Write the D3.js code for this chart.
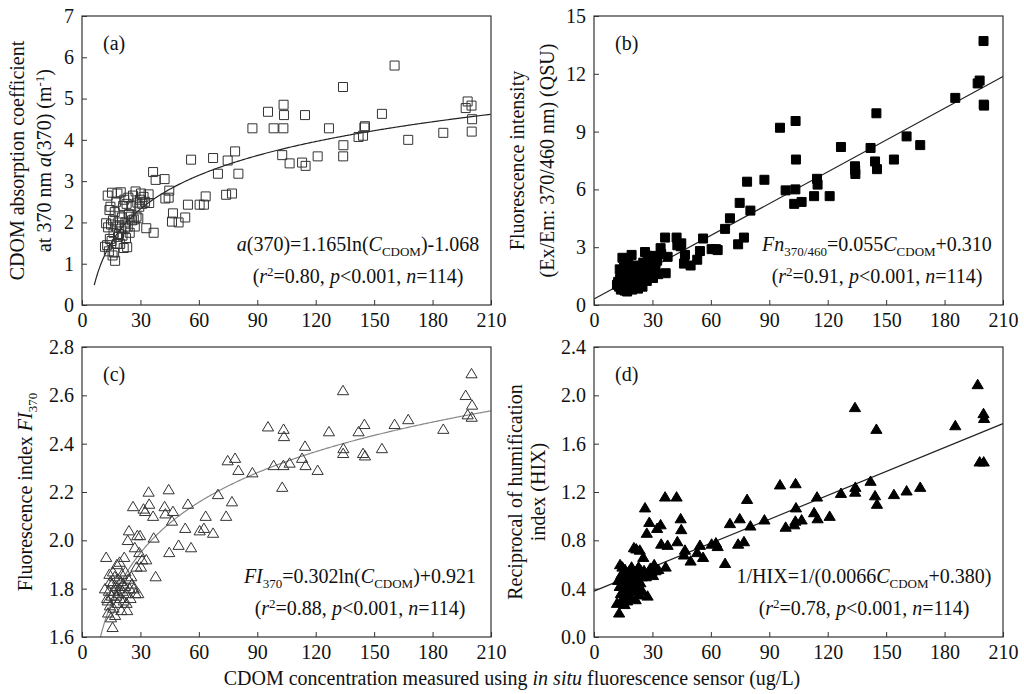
<!DOCTYPE html>
<html>
<head>
<meta charset="utf-8">
<script src="https://cdn.jsdelivr.net/npm/d3@7"></script>
<style>
  body { margin: 0; background: #fff; }
  svg text { font-family: "Liberation Serif", "Times New Roman", serif; fill: #111; }
</style>
</head>
<body>
<svg id="chart" width="1024" height="694"></svg>
<script>
// CDOM concentration (ug/L), shared by all four panels
const cdom = [197, 198, 200, 200.3, 200.1, 185.5, 167.5, 160.5, 154, 145, 144.3, 145.3, 142, 134, 134.2, 134.1,
  126.8, 121, 114.5, 114.8, 113, 106.6, 103.5, 103.7, 103.4, 102.8, 98.4, 95.5, 87.5, 80.3, 78.6, 77, 74.8, 74,
  69.8, 67.3, 63.5, 62.6, 60.4, 56, 54.4, 53, 49.6, 46.7, 46.2, 44.5, 44.8, 42.4, 42.8, 37.8, 36.5, 36.8, 34.2, 34.5, 33,
  11.8, 12.4, 12.9, 13.2, 13.4, 13.8, 14.1, 14.3, 14.6, 14.9, 15.2, 15.4, 15.7, 15.9, 16.2, 16.5, 16.8, 17.0, 17.3,
  17.6, 17.9, 18.2, 18.5, 18.7, 19.0, 19.3, 19.6, 19.9, 20.2, 20.5, 20.8, 21.1, 21.4, 21.7, 22.0, 22.3, 22.6, 22.9,
  23.2, 23.5, 23.8, 24.1, 24.5, 24.9, 25.3, 25.7, 26.2, 26.6, 27.1, 27.5, 28.0, 28.4, 28.9, 29.4, 29.8, 30.3, 30.9,
  31.6, 32.4];

// (a) absorption coefficient a(370), m^-1
const a370 = [4.77, 4.93, 4.83, 4.5, 4.2, 4.17, 4.0, 5.8, 4.63, 4.3, 4.1, 4.33, 4.07, 5.28, 3.87, 3.6,
  4.28, 3.6, 4.6, 3.37, 3.45, 3.43, 4.85, 4.6, 4.28, 3.63, 4.28, 4.68, 4.28, 3.18, 3.72, 2.7, 3.5, 2.67,
  3.18, 3.56, 2.63, 2.43, 2.43, 3.52, 2.43, 2.12, 2.0, 2.22, 2.02, 2.6, 2.77, 3.05, 2.58, 3.03, 3.22, 1.75, 2.68, 2.47, 1.86,
  1.41, 1.98, 1.45, 2.65, 1.88, 1.30, 2.30, 1.60, 2.38, 1.95, 1.55, 2.72, 1.20, 2.05, 1.75, 1.27, 2.25, 1.07, 1.90,
  2.50, 1.48, 2.70, 1.65, 2.00, 1.72, 2.15, 1.48, 2.73, 1.85, 2.12, 1.68, 2.40, 1.38, 2.55, 1.86, 2.00, 1.62, 2.45,
  1.40, 1.90, 2.60, 2.20, 1.75, 2.14, 2.40, 2.05, 2.65, 2.07, 1.90, 2.75, 2.14, 2.48, 2.10, 2.38, 2.55, 2.70, 2.45,
  2.62, 2.50];

// (b) fluorescence intensity Fn(370/460), QSU
const fn370 = [11.5, 11.65, 13.7, 10.35, 10.4, 10.75, 8.3, 8.75, 7.55, 9.95, 7.45, 7.05, 8.15, 7.2, 6.8, 7.0,
  8.2, 5.65, 6.55, 6.25, 5.65, 5.35, 9.55, 7.55, 6.0, 5.25, 5.95, 9.2, 6.5, 4.9, 6.4, 3.5, 5.3, 3.15,
  4.5, 3.95, 2.85, 2.9, 2.9, 3.45, 2.8, 2.35, 2.05, 2.6, 2.15, 3.05, 3.2, 3.5, 3.1, 2.5, 3.5, 1.65, 2.95, 2.65, 1.6,
  1.05, 1.20, 0.95, 1.85, 1.35, 0.80, 1.70, 1.10, 2.45, 1.50, 0.90, 1.95, 0.75, 1.60, 1.25, 0.85, 1.75, 0.70, 1.45,
  2.15, 1.00, 1.85, 1.30, 0.95, 1.15, 2.60, 0.80, 1.70, 1.40, 1.95, 0.90, 1.60, 1.10, 2.05, 1.25, 1.80, 0.85, 1.55,
  1.35, 1.90, 1.10, 2.00, 1.50, 0.95, 2.20, 1.75, 2.75, 1.65, 1.25, 2.55, 2.00, 1.45, 2.50, 1.80, 2.10, 1.40, 2.55,
  1.95, 2.30];

// (c) fluorescence index FI370
const fi370 = [2.60, 2.52, 2.69, 2.56, 2.51, 2.46, 2.50, 2.48, 2.38, 2.48, 2.36, 2.35, 2.45, 2.62, 2.38, 2.36,
  2.45, 2.29, 2.39, 2.31, 2.34, 2.32, 2.46, 2.43, 2.31, 2.22, 2.31, 2.47, 2.28, 2.29, 2.34, 2.16, 2.33, 2.10,
  2.19, 2.03, 2.10, 2.05, 2.04, 1.97, 2.15, 2.05, 1.98, 2.12, 2.08, 2.21, 1.95, 2.14, 2.11, 1.85, 2.10, 2.01, 2.20, 2.15, 1.92,
  1.80, 1.93, 1.76, 1.75, 1.70, 1.79, 1.86, 1.73, 1.83, 1.68, 1.77, 1.82, 1.64, 1.87, 1.72, 1.79, 1.85, 1.69, 1.81,
  1.77, 1.90, 1.74, 1.84, 1.78, 1.80, 1.91, 1.76, 1.83, 1.71, 1.86, 1.79, 1.82, 1.75, 1.93, 1.81, 1.87, 1.78, 1.74,
  1.71, 2.00, 1.84, 2.04, 1.80, 1.76, 1.85, 1.82, 2.14, 1.80, 1.97, 1.78, 1.89, 2.02, 1.78, 1.95, 2.02, 1.89, 1.92,
  2.13, 2.12];

// (d) reciprocal of humification index 1/HIX
const rHix = [2.09, 1.45, 1.85, 1.81, 1.45, 1.75, 1.24, 1.21, 1.18, 1.72, 1.17, 1.10, 1.29, 1.90, 1.24, 1.20,
  1.19, 1.00, 1.16, 0.98, 1.03, 0.97, 1.27, 1.07, 0.96, 0.93, 0.91, 1.26, 0.97, 0.92, 1.14, 0.79, 0.98, 0.77,
  0.94, 0.61, 0.75, 0.78, 0.77, 0.66, 0.76, 0.70, 0.63, 0.72, 0.68, 0.98, 0.89, 1.16, 0.79, 0.76, 1.16, 0.58, 0.93, 0.77, 0.56,
  0.28, 0.47, 0.20, 0.42, 0.60, 0.36, 0.52, 0.31, 0.58, 0.44, 0.38, 0.50, 0.27, 0.56, 0.34, 0.46, 0.40, 0.30, 0.53,
  0.48, 0.36, 0.55, 0.43, 0.32, 0.50, 0.58, 0.38, 0.45, 0.55, 0.74, 0.42, 0.52, 0.31, 0.73, 0.48, 0.56, 0.40, 0.58,
  0.35, 0.72, 0.45, 0.55, 0.50, 0.38, 0.66, 0.55, 1.07, 0.50, 0.86, 0.34, 0.52, 0.95, 0.57, 0.54, 0.55, 0.51, 0.60,
  0.55, 0.90];

const xTicks = [0, 30, 60, 90, 120, 150, 180, 210];
const aTicks = [0, 1, 2, 3, 4, 5, 6, 7];
const fnTicks = [0, 3, 6, 9, 12, 15];
const fiTicks = [1.6, 1.8, 2.0, 2.2, 2.4, 2.6, 2.8];
const hixTicks = [0.0, 0.4, 0.8, 1.2, 1.6, 2.0, 2.4];

// fit coefficients as drawn: [slope, intercept]
const fitA = [1.18, -1.69];      // log curve
const fitFn = [0.055, 0.310];
const fitFi = [0.302, 0.921];
const fitHix = [0.0066, 0.380];

const FONT = "'Liberation Serif', 'Times New Roman', serif";
const FS = 20;
const svg = d3.select("#chart");

// draws a line of text made of styled runs
function rich(g, x, y, parts, anchor, size) {
    const t = g.append("text").attr("x", x).attr("y", y)
        .attr("text-anchor", anchor || "middle")
        .style("font-family", FONT)
        .style("font-size", (size || FS) + "px");
    let shift = 0;
    parts.forEach(p => {
        const s = t.append("tspan").text(p.t);
        let want = 0;
        if (p.sub) want = 5;
        if (p.sup) want = -7;
        if (want !== shift) { s.attr("dy", want - shift); shift = want; }
        if (p.sub || p.sup) s.style("font-size", Math.round((size || FS) * 0.66) + "px");
        if (p.it) s.style("font-style", "italic");
    });
    return t;
}

function panel(opt) {
    const {x0, y0, w, h, yv, yTicks, fmt, marker, filled, fit, label, eq1, eq2, eqX, title} = opt;
    const g = svg.append("g").attr("transform", `translate(${x0},${y0})`);
    const x = d3.scaleLinear().domain([0, 210]).range([0, w]);
    const y = d3.scaleLinear().domain([yTicks[0], yTicks[yTicks.length - 1]]).range([h, 0]);

    const xa = g.append("g").attr("transform", `translate(0,${h})`)
        .call(d3.axisBottom(x).tickValues(xTicks).tickSizeInner(-5).tickSizeOuter(0).tickPadding(8));
    const ya = g.append("g")
        .call(d3.axisLeft(y).tickValues(yTicks).tickFormat(fmt).tickSizeInner(-5).tickSizeOuter(0).tickPadding(8));
    [xa, ya].forEach(a => {
        a.attr("font-family", FONT).attr("font-size", FS);
        a.select(".domain").remove();
        a.selectAll("line").attr("stroke", "#333");
        a.selectAll("text").attr("fill", "#111")
            .style("font-family", FONT).style("font-size", FS + "px");
    });
    xa.selectAll("text").attr("dy", "0.7em");

    // fit line / curve
    const xs = fit.type === "log" ? d3.range(fit.from, 210.01, 0.5) : [fit.from, 210];
    const f = fit.type === "log" ? (v => fit.c[0] * Math.log(v) + fit.c[1]) : (v => fit.c[0] * v + fit.c[1]);
    g.append("path")
        .attr("d", d3.line().x(v => x(v)).y(v => y(f(v)))(xs))
        .attr("fill", "none").attr("stroke", fit.color).attr("stroke-width", 1.2);

    // points
    const sq = "M-4.5,-4.5h9v9h-9z";
    const tri = "M0,-5.2L5.6,4.2L-5.6,4.2Z";
    g.selectAll(".pt").data(cdom).enter().append("path")
        .attr("class", "pt")
        .attr("transform", (d, i) => `translate(${x(d)},${y(yv[i])})`)
        .attr("d", marker === "square" ? sq : tri)
        .attr("fill", filled ? "#000" : "none")
        .attr("stroke", filled ? "#000" : "#333")
        .attr("stroke-width", 1);

    // frame
    g.append("rect").attr("width", w).attr("height", h)
        .attr("fill", "none").attr("stroke", "#333").attr("stroke-width", 1.2);

    rich(g, 21, 34, [{t: label}], "start", FS);
    rich(g, eqX, h - 54, eq1, "middle", FS);
    rich(g, eqX, h - 22, eq2, "middle", FS);

    // y title lines
    title.forEach(tl => {
        const t = rich(g, 0, 0, tl.parts, "middle", FS);
        t.attr("x", null).attr("y", null)
            .attr("transform", `translate(${tl.x},${h / 2}) rotate(-90)`);
    });
}

const stats = (r) => [{t: "("}, {t: "r", it: true}, {t: "2", sup: true}, {t: "=" + r + ", "}, {t: "p", it: true},
    {t: "<0.001, "}, {t: "n", it: true}, {t: "=114)"}];

panel({
    x0: 82, y0: 16, w: 409, h: 289, yv: a370, yTicks: aTicks, fmt: d3.format("d"),
    marker: "square", filled: false, fit: {type: "log", c: fitA, from: 6.3, color: "#222"}, label: "(a)",
    eqX: 276,
    eq1: [{t: "a", it: true}, {t: "(370)=1.165ln("}, {t: "C", it: true}, {t: "CDOM", sub: true}, {t: ")-1.068"}],
    eq2: stats("0.80"),
    title: [
        {x: -58, parts: [{t: "CDOM absorption coefficient"}]},
        {x: -31, parts: [{t: "at 370 nm "}, {t: "a", it: true}, {t: "(370) (m"}, {t: "-1", sup: true}, {t: ")"}]}
    ]
});

panel({
    x0: 594, y0: 16, w: 409, h: 289, yv: fn370, yTicks: fnTicks, fmt: d3.format("d"),
    marker: "square", filled: true, fit: {type: "lin", c: fitFn, from: 0, color: "#222"}, label: "(b)",
    eqX: 283,
    eq1: [{t: "Fn", it: true}, {t: "370/460", sub: true}, {t: "=0.055"}, {t: "C", it: true}, {t: "CDOM", sub: true}, {t: "+0.310"}],
    eq2: stats("0.91"),
    title: [
        {x: -70, parts: [{t: "Fluorescence intensity"}]},
        {x: -40, parts: [{t: "(Ex/Em: 370/460 nm) (QSU)"}]}
    ]
});

panel({
    x0: 82, y0: 347, w: 409, h: 290, yv: fi370, yTicks: fiTicks, fmt: d3.format(".1f"),
    marker: "tri", filled: false, fit: {type: "log", c: fitFi, from: 9.45, color: "#888"}, label: "(c)",
    eqX: 278,
    eq1: [{t: "FI", it: true}, {t: "370", sub: true}, {t: "=0.302ln("}, {t: "C", it: true}, {t: "CDOM", sub: true}, {t: ")+0.921"}],
    eq2: stats("0.88"),
    title: [
        {x: -50, parts: [{t: "Fluorescence index "}, {t: "FI", it: true}, {t: "370", sub: true}]}
    ]
});

panel({
    x0: 594, y0: 347, w: 409, h: 290, yv: rHix, yTicks: hixTicks, fmt: d3.format(".1f"),
    marker: "tri", filled: true, fit: {type: "lin", c: fitHix, from: 0, color: "#222"}, label: "(d)",
    eqX: 270,
    eq1: [{t: "1/HIX=1/(0.0066"}, {t: "C", it: true}, {t: "CDOM", sub: true}, {t: "+0.380)"}],
    eq2: stats("0.78"),
    title: [
        {x: -72, parts: [{t: "Reciprocal of humification"}]},
        {x: -49, parts: [{t: "index (HIX)"}]}
    ]
});

// shared x title
rich(svg, 512, 685, [{t: "CDOM concentration measured using "}, {t: "in situ", it: true},
    {t: " fluorescence sensor (ug/L)"}], "middle", FS);
</script>
</body>
</html>
